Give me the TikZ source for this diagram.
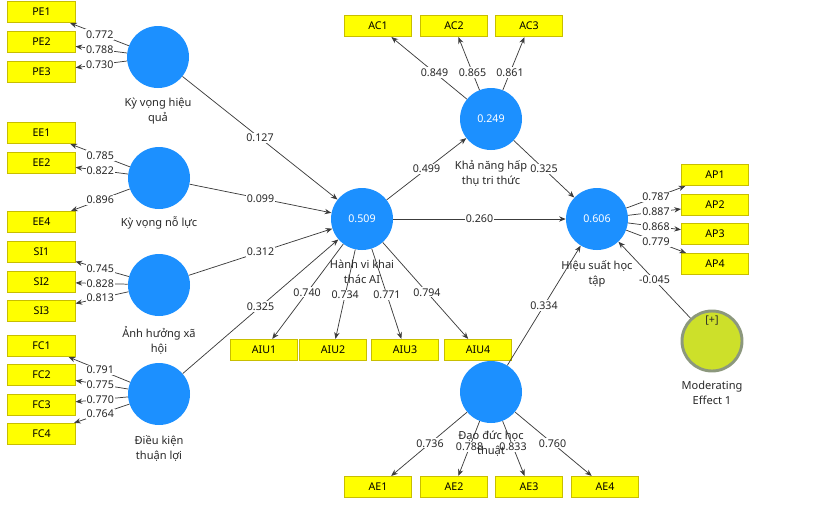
\documentclass[tikz,border=0pt]{standalone}
\usepackage{fontspec}
\setmainfont{Noto Sans}
\usetikzlibrary{arrows.meta,calc}
\definecolor{lvblue}{RGB}{28,144,255}
\definecolor{indyel}{RGB}{255,255,0}
\definecolor{indbrd}{RGB}{200,190,0}
\definecolor{linegray}{RGB}{60,60,60}
\definecolor{txtgray}{RGB}{40,40,40}
\definecolor{modfill}{RGB}{205,224,42}
\definecolor{modbrd}{RGB}{140,152,125}
\newcommand\lnk[4][0.5]{\draw[arr] (#2) -- (#3); \path (#2.center) -- node[val,pos=#1]{#4} (#3.center);}
\begin{document}
\begin{tikzpicture}[x=0.75pt,y=-0.75pt, font=\fontsize{8}{10}\selectfont,
 lv/.style={circle, fill=lvblue, minimum size=46.5pt, inner sep=0pt, text=white},
 ind/.style={rectangle, fill=indyel, draw=indbrd, line width=0.6pt, minimum width=50.5pt, minimum height=16pt, inner sep=0pt, text=black},
 arr/.style={draw=linegray, line width=0.55pt, -{Stealth[length=5pt,width=4pt]}},
 val/.style={fill=white, inner sep=0.8pt, text=txtgray},
 lvname/.style={align=center, text=txtgray, anchor=north, inner sep=0pt, font=\fontsize{8.3}{11.25}\selectfont},
]
\useasboundingbox (0,0) rectangle (817,504);
% constructs
\node[lv] (pe) at (158,57) {};
\node[lv] (ee) at (159,178) {};
\node[lv] (si) at (159,285) {};
\node[lv] (fc) at (159,394) {};
\node[lv] (ai) at (362,219) {0.509};
\node[lv] (ac) at (491,119) {0.249};
\node[lv] (ap) at (597,219) {0.606};
\node[lv] (ae) at (491,392) {};
\node[circle, fill=modfill, draw=modbrd, line width=2.2pt, minimum size=45pt, inner sep=0pt] (me) at (712,341) {};
\node[text=txtgray, inner sep=0pt] (mplus) at (712,321) {[+]};
% indicators
\node[ind] (pe1) at (41.5,12) {PE1};
\node[ind] (pe2) at (41.5,42) {PE2};
\node[ind] (pe3) at (41.5,72) {PE3};
\node[ind] (ee1) at (41.5,133) {EE1};
\node[ind] (ee2) at (41.5,163) {EE2};
\node[ind] (ee4) at (41.5,222) {EE4};
\node[ind] (si1) at (41.5,252) {SI1};
\node[ind] (si2) at (41.5,282) {SI2};
\node[ind] (si3) at (41.5,311) {SI3};
\node[ind] (fc1) at (41.5,346) {FC1};
\node[ind] (fc2) at (41.5,375) {FC2};
\node[ind] (fc3) at (41.5,405) {FC3};
\node[ind] (fc4) at (41.5,434) {FC4};
\node[ind] (ac1) at (378,26) {AC1};
\node[ind] (ac2) at (454,26) {AC2};
\node[ind] (ac3) at (529,26) {AC3};
\node[ind] (aiu1) at (264,350) {AIU1};
\node[ind] (aiu2) at (333,350) {AIU2};
\node[ind] (aiu3) at (405,350) {AIU3};
\node[ind] (aiu4) at (478,350) {AIU4};
\node[ind] (ap1) at (715,175) {AP1};
\node[ind] (ap2) at (715,205) {AP2};
\node[ind] (ap3) at (715,234) {AP3};
\node[ind] (ap4) at (715,264) {AP4};
\node[ind] (ae1) at (378,487) {AE1};
\node[ind] (ae2) at (454,487) {AE2};
\node[ind] (ae3) at (529,487) {AE3};
\node[ind] (ae4) at (605,487) {AE4};
% outer loadings
\lnk{pe}{pe1}{0.772}
\lnk{pe}{pe2}{0.788}
\lnk{pe}{pe3}{0.730}
\lnk{ee}{ee1}{0.785}
\lnk{ee}{ee2}{0.822}
\lnk{ee}{ee4}{0.896}
\lnk{si}{si1}{0.745}
\lnk{si}{si2}{0.828}
\lnk{si}{si3}{0.813}
\lnk{fc}{fc1}{0.791}
\lnk{fc}{fc2}{0.775}
\lnk{fc}{fc3}{0.770}
\lnk{fc}{fc4}{0.764}
\lnk{ac}{ac1}{0.849}
\lnk{ac}{ac2}{0.865}
\lnk{ac}{ac3}{0.861}
\lnk[0.56]{ai}{aiu1}{0.740}
\lnk[0.58]{ai}{aiu2}{0.734}
\lnk[0.58]{ai}{aiu3}{0.771}
\lnk[0.56]{ai}{aiu4}{0.794}
\lnk{ap}{ap1}{0.787}
\lnk{ap}{ap2}{0.887}
\lnk{ap}{ap3}{0.868}
\lnk{ap}{ap4}{0.779}
\lnk[0.54]{ae}{ae1}{0.736}
\lnk[0.58]{ae}{ae2}{0.788}
\lnk[0.58]{ae}{ae3}{0.833}
\lnk[0.54]{ae}{ae4}{0.760}
% structural paths
\lnk{pe}{ai}{0.127}
\lnk{ee}{ai}{0.099}
\lnk{si}{ai}{0.312}
\lnk{fc}{ai}{0.325}
\lnk{ai}{ac}{0.499}
\lnk{ac}{ap}{0.325}
\lnk{ai}{ap}{0.260}
\lnk{ae}{ap}{0.334}
\lnk{me}{ap}{-0.045}
% construct names
\node[lvname] (pen) at ($(pe)+(0,41)$) {Kỳ vọng hiệu\\quả};
\node[lvname] (een) at ($(ee)+(0,38)$) {Kỳ vọng nỗ lực};
\node[lvname] (sin) at ($(si)+(0,41)$) {Ảnh hưởng xã\\hội};
\node[lvname] (fcn) at ($(fc)+(0,41)$) {Điều kiện\\thuận lợi};
\node[lvname] (ain) at ($(ai)+(0,41)$) {Hành vi khai\\thác AI};
\node[lvname] (acn) at ($(ac)+(0,41)$) {Khả năng hấp\\thụ tri thức};
\node[lvname] (apn) at ($(ap)+(0,41)$) {Hiệu suất học\\tập};
\node[lvname] (aen) at ($(ae)+(0,39)$) {Đạo đức học\\thuật};
\node[lvname] (men) at ($(me)+(0,40)$) {Moderating\\Effect 1};
\end{tikzpicture}
\end{document}
